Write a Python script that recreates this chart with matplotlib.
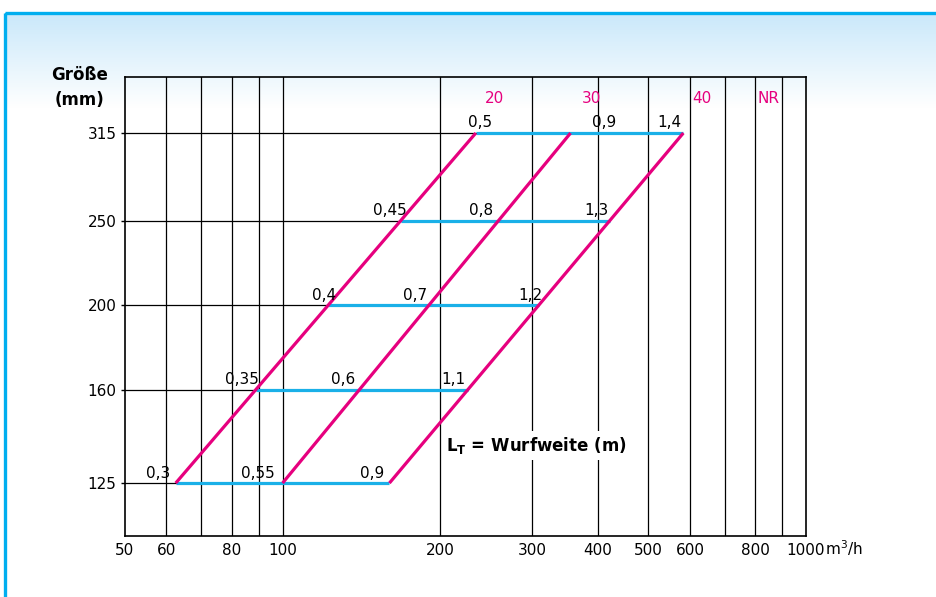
import numpy as np
import matplotlib
matplotlib.use('Agg')
import matplotlib.pyplot as plt
from matplotlib.patches import Rectangle
from matplotlib.ticker import FixedLocator, NullLocator

# Größe (mm) und Volumenstrom (m3/h)
sizes = [125, 160, 200, 250, 315]
x_ticks = [50, 60, 80, 100, 200, 300, 400, 500, 600, 800, 1000]
x_grid = [60, 70, 80, 90, 100, 200, 300, 400, 500, 600, 700, 800, 900]

# pink lines (NR 20/30/40): flow at size 125 and at size 315
nr_flow_125 = [62.5, 100, 160]
nr_flow_315 = [234, 355, 583]
nr_names = ['20', '30', '40', 'NR']
nr_name_x = [254, 390, 632, 849]
nr_name_y = 345

# Wurfweite labels per size row
throw_text = [['0,3', '0,55', '0,9'],
              ['0,35', '0,6', '1,1'],
              ['0,4', '0,7', '1,2'],
              ['0,45', '0,8', '1,3'],
              ['0,5', '0,9', '1,4']]
throw_x = [[57.8, 89.6, 148],
           [83.6, 130.5, 212],
           [120, 179, 297],
           [160, 239, 397],
           [238, 411, 548]]

pink = '#e6007e'
cyan = '#1ab0e8'
frame_blue = '#00aeef'

plt.rcParams['font.family'] = ['DejaVu Sans']

W, H = 937, 597
fig = plt.figure(figsize=(W / 100, H / 100), dpi=100)

# background: gradient + frame
bg = fig.add_axes([0, 0, 1, 1])
bg.set_xlim(0, W)
bg.set_ylim(H, 0)
bg.axis('off')
grad = np.linspace(0, 1, 200).reshape(-1, 1)
top_col = np.array([0.79, 0.91, 0.98])
img = top_col[None, None, :] * (1 - grad[:, :, None]) + np.ones(3)[None, None, :] * grad[:, :, None]
bg.imshow(img, extent=(5, W, 108, 13), aspect='auto', zorder=0)
bg.add_patch(Rectangle((5, 12.5), W + 20, H + 20, fill=False, edgecolor=frame_blue, linewidth=2.4, zorder=1))

ax = fig.add_axes([125 / W, 1 - 536 / H, 681 / W, 459 / H])
ax.set_facecolor('none')
ax.set_xscale('log')
ax.set_yscale('log')
ax.set_xlim(50, 1000)
ax.set_ylim(108.7, 365.2)

for v in x_grid:
    ax.axvline(v, color='black', linewidth=0.9, zorder=1)

ax.xaxis.set_major_locator(FixedLocator(x_ticks))
ax.xaxis.set_minor_locator(NullLocator())
ax.set_xticklabels([str(v) for v in x_ticks])
ax.yaxis.set_major_locator(FixedLocator(sizes))
ax.yaxis.set_minor_locator(NullLocator())
ax.set_yticklabels([str(v) for v in sizes])
ax.tick_params(axis='x', length=0, pad=5, labelsize=11)
ax.tick_params(axis='y', length=3, width=1, pad=3, labelsize=11)
for s in ax.spines.values():
    s.set_linewidth(1.2)

# rows: black up to first pink line, cyan between first and third
lb = np.log10(sizes[0])
lt = np.log10(sizes[-1])
for i, s in enumerate(sizes):
    t = (np.log10(s) - lb) / (lt - lb)
    xs = [10 ** (np.log10(a) + t * (np.log10(b) - np.log10(a))) for a, b in zip(nr_flow_125, nr_flow_315)]
    ax.plot([50, xs[0]], [s, s], color='black', linewidth=0.9, zorder=2)
    ax.plot([xs[0], xs[-1]], [s, s], color=cyan, linewidth=2.3, zorder=3, solid_capstyle='butt')
    for txt, xv in zip(throw_text[i], throw_x[i]):
        ax.annotate(txt, xy=(xv, s), xytext=(0, 4), textcoords='offset points',
                    ha='center', va='baseline', fontsize=11, zorder=5)

for a, b in zip(nr_flow_125, nr_flow_315):
    ax.plot([a, b], [sizes[0], sizes[-1]], color=pink, linewidth=2.3, zorder=4, solid_capstyle='butt')

for name, xv in zip(nr_names, nr_name_x):
    ax.text(xv, nr_name_y, name, color=pink, fontsize=11, ha='center', va='center')

ax.text(306, 138, r'$\mathbf{L_T}$ = Wurfweite (m)', fontsize=12, fontweight='bold',
        ha='center', va='center', zorder=6,
        bbox=dict(facecolor='white', edgecolor='none', pad=3))

ax.annotate('m$^3$/h', xy=(1000, 0), xycoords=('data', 'axes fraction'),
            xytext=(14, -13.7), textcoords='offset points', ha='left', va='baseline', fontsize=11)

fig.text(80 / W, 1 - 75 / H, 'Größe', fontsize=12, fontweight='bold', ha='center', va='center')
fig.text(80 / W, 1 - 100 / H, '(mm)', fontsize=12, fontweight='bold', ha='center', va='center')

fig.savefig('out.png', dpi=100)
